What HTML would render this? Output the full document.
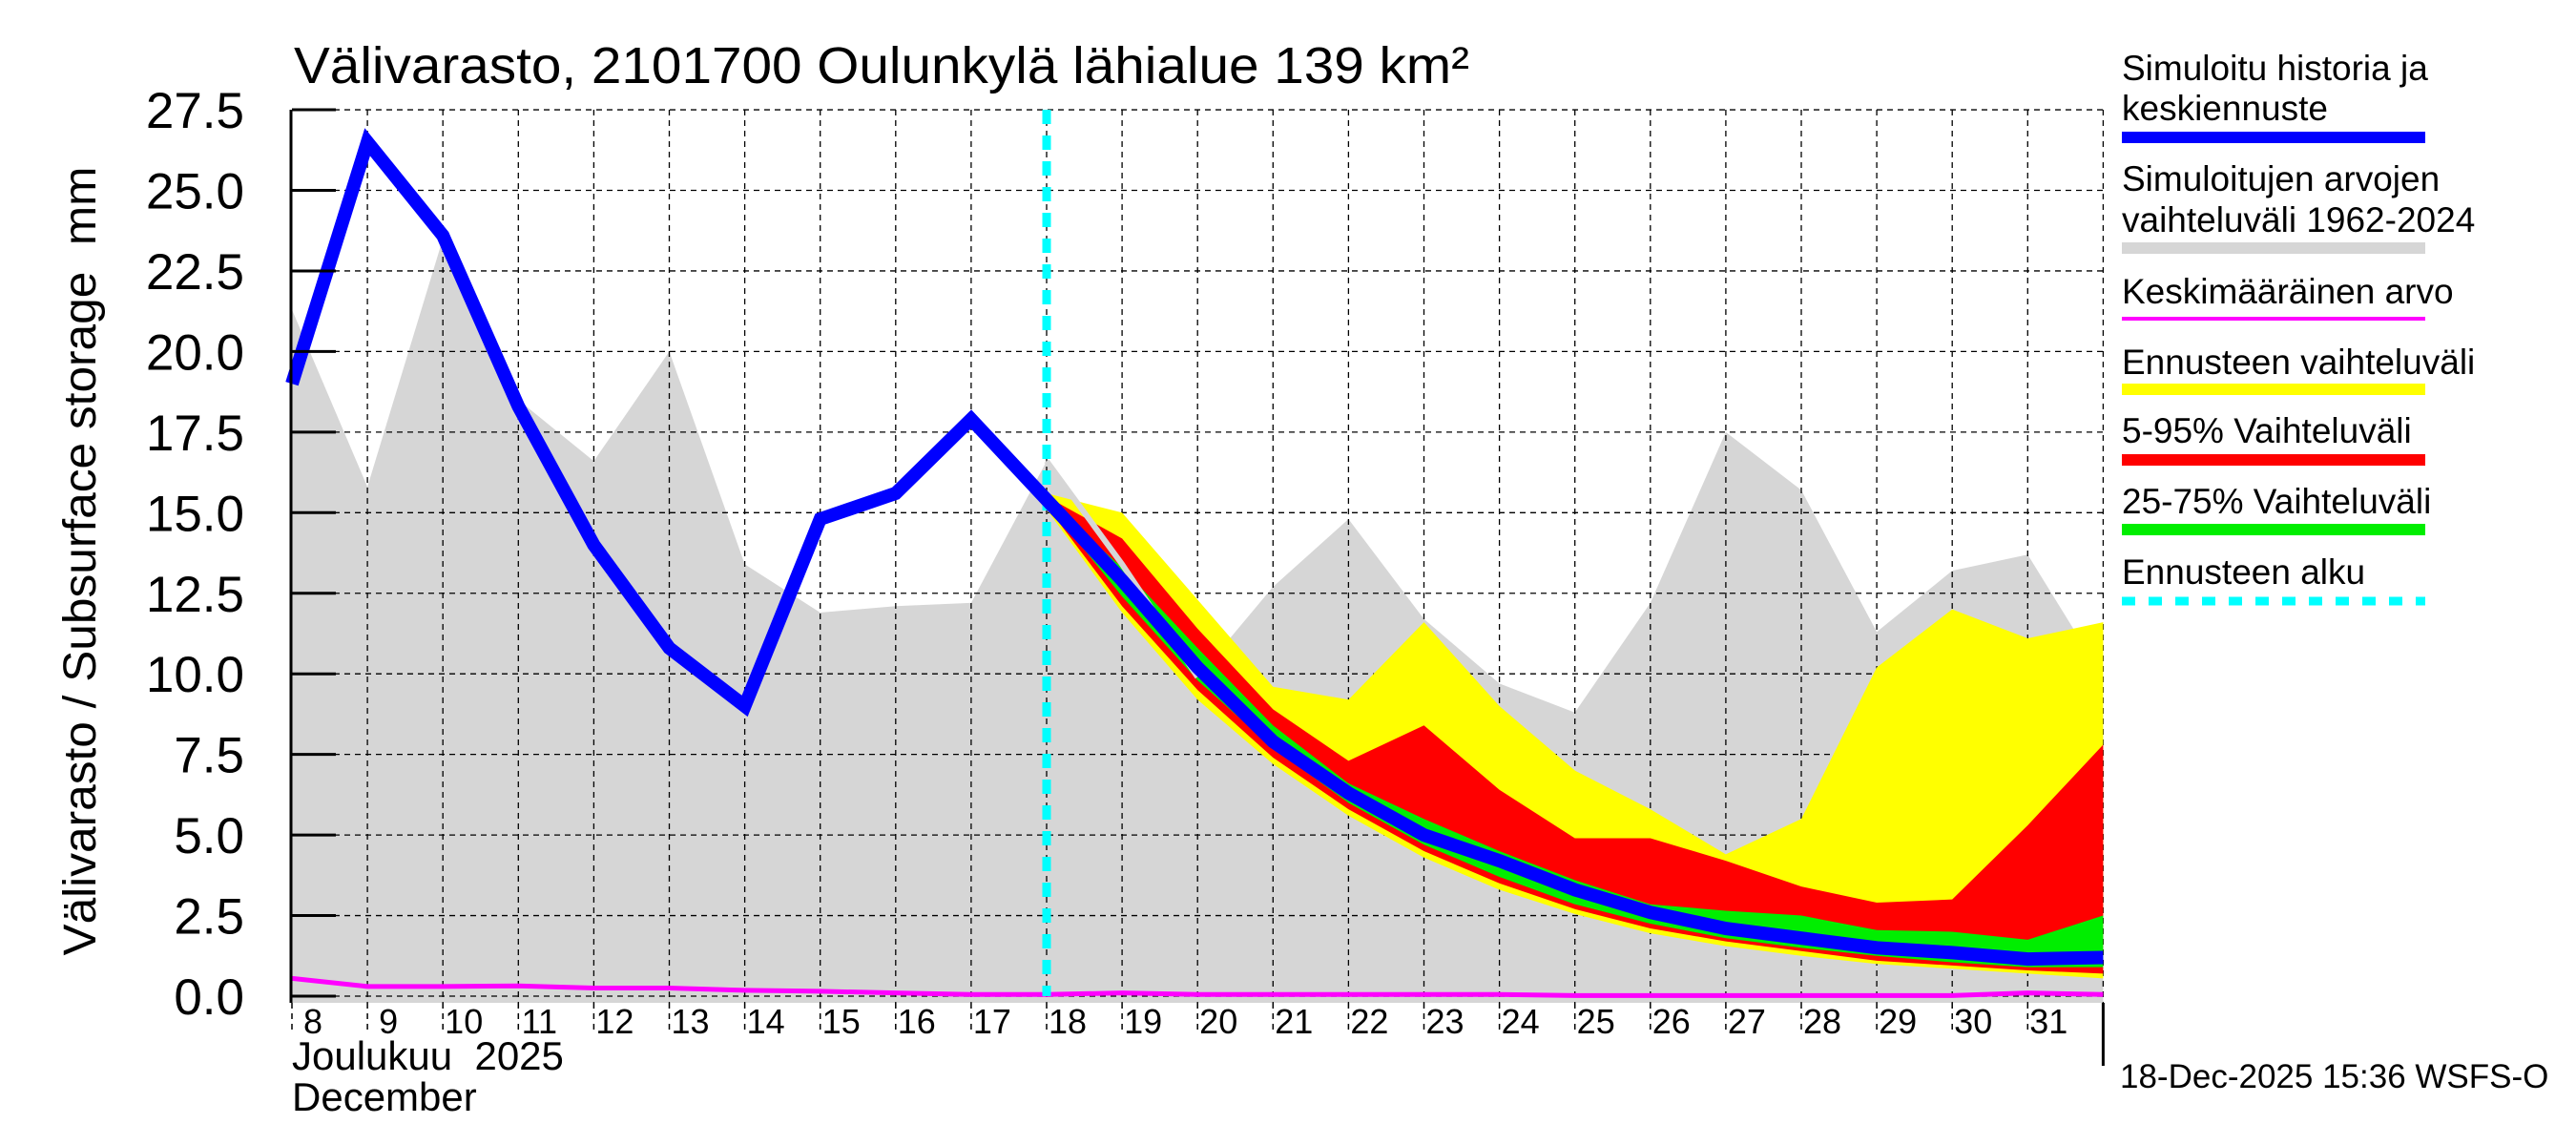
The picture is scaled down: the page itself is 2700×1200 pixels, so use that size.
<!DOCTYPE html>
<html><head><meta charset="utf-8">
<style>
html,body{margin:0;padding:0;background:#fff;}
svg{display:block;font-family:"Liberation Sans",Arial,sans-serif;}
</style></head>
<body>
<svg id="chart" width="2700" height="1200" viewBox="0 0 2700 1200" xmlns="http://www.w3.org/2000/svg">
<g id="plot"></g>
<text x="308" y="87" font-size="54" textLength="1232" lengthAdjust="spacingAndGlyphs">Välivarasto, 2101700 Oulunkylä lähialue 139 km²</text>
<text transform="translate(100,588) rotate(-90)" text-anchor="middle" font-size="48" textLength="827" lengthAdjust="spacingAndGlyphs">Välivarasto / Subsurface storage &#160;mm</text>
<text x="306" y="1121" font-size="42">Joulukuu &#160;2025</text>
<text x="306" y="1164" font-size="42">December</text>
<text x="2222" y="1140" font-size="35">18-Dec-2025 15:36 WSFS-O</text>
<g font-size="37">
 <text x="2224" y="84">Simuloitu historia ja</text>
 <text x="2224" y="126">keskiennuste</text>
 <rect x="2224" y="138" width="318" height="12" fill="#0000ff"/>
 <text x="2224" y="200">Simuloitujen arvojen</text>
 <text x="2224" y="243">vaihteluväli 1962-2024</text>
 <rect x="2224" y="254" width="318" height="12" fill="#d6d6d6"/>
 <text x="2224" y="318">Keskimääräinen arvo</text>
 <rect x="2224" y="332" width="318" height="4" fill="#ff00ff"/>
 <text x="2224" y="392">Ennusteen vaihteluväli</text>
 <rect x="2224" y="402" width="318" height="12" fill="#ffff00"/>
 <text x="2224" y="464">5-95% Vaihteluväli</text>
 <rect x="2224" y="476" width="318" height="12" fill="#ff0000"/>
 <text x="2224" y="538">25-75% Vaihteluväli</text>
 <rect x="2224" y="549" width="318" height="12" fill="#00ee00"/>
 <text x="2224" y="612">Ennusteen alku</text>
 <line x1="2224" y1="630" x2="2542" y2="630" stroke="#00ffff" stroke-width="9" stroke-dasharray="14,14"/>
</g>
</svg>
<script>
const dayLabels = ["8","9","10","11","12","13","14","15","16","17","18","19","20","21","22","23","24","25","26","27","28","29","30","31"];
const yTicks = [0,2.5,5,7.5,10,12.5,15,17.5,20,22.5,25,27.5];
const histDays = [0,1,2,3,4,5,6,7,8,9,10];
const histValues = [19.0,26.5,23.6,18.3,14.0,10.8,9.0,14.8,15.6,17.9,15.4];
const rangeDays = [0,1,2,3,4,5,6,7,8,9,10,11,12,13,14,15,16,17,18,19,20,21,22,23,24];
const rangeMax = [21.3,15.8,23.5,18.5,16.6,20.0,13.4,11.9,12.1,12.2,16.6,13.4,9.9,12.7,14.8,11.7,9.7,8.8,12.2,17.5,15.7,11.3,13.2,13.7,9.9];
const meanValues = [0.55,0.3,0.3,0.32,0.25,0.25,0.18,0.15,0.1,0.05,0.05,0.1,0.05,0.05,0.05,0.05,0.05,0.02,0.02,0.02,0.02,0.02,0.02,0.1,0.05];
const fcDays = [10,11,12,13,14,15,16,17,18,19,20,21,22,23,24];
const fcMedian = [15.4,12.9,10.2,7.9,6.3,5.0,4.2,3.3,2.6,2.1,1.8,1.5,1.35,1.15,1.2];
const fcMaxAll = [15.6,15.0,12.3,9.6,9.2,11.6,9.0,7.0,5.8,4.4,5.5,10.2,12.0,11.1,11.6];
const fcMinAll = [15.1,11.9,9.2,7.2,5.6,4.3,3.3,2.55,1.95,1.55,1.25,1.0,0.85,0.7,0.55];
const fcP95 = [15.5,14.2,11.4,8.9,7.3,8.4,6.4,4.9,4.9,4.2,3.4,2.9,3.0,5.3,7.8];
const fcP05 = [15.2,12.1,9.5,7.4,5.8,4.5,3.5,2.7,2.1,1.7,1.4,1.1,0.95,0.8,0.7];
const fcP75 = [15.4,13.3,10.8,8.4,6.6,5.5,4.5,3.6,2.85,2.65,2.5,2.05,2.0,1.75,2.5];
const fcP25 = [15.3,12.4,9.8,7.7,6.0,4.7,3.7,2.85,2.25,1.8,1.5,1.25,1.05,0.9,0.9];
const forecastStartDay = 10;

const NS="http://www.w3.org/2000/svg";
const X0=306, DW=79.1, Y0=1044, YU=33.78, PB=1051, PT=115, PR=X0+24*DW;
const xs=d=>X0+d*DW, ys=v=>Y0-v*YU;
const plot=document.getElementById('plot');
function mk(tag,attrs){const e=document.createElementNS(NS,tag);for(const k in attrs)e.setAttribute(k,attrs[k]);plot.appendChild(e);return e;}
function band(days,lo,hi){let p=days.map((d,i)=>xs(d)+','+ys(hi[i]));for(let i=days.length-1;i>=0;i--)p.push(xs(days[i])+','+ys(lo[i]));return p.join(' ');}
function line(days,vals){return days.map((d,i)=>xs(d)+','+ys(vals[i])).join(' ');}

let gp=rangeDays.map((d,i)=>xs(d)+','+ys(rangeMax[i]));gp.push(xs(24)+','+PB,xs(0)+','+PB);
let e=mk('polygon',{points:gp.join(' '),fill:'#d6d6d6'});



for(let d=1;d<=24;d++){e=mk('line',{x1:xs(d),y1:PT,x2:xs(d),y2:PB,stroke:'#000','stroke-width':1.3,'stroke-dasharray':'6,5'});

}
yTicks.forEach(v=>{e=mk('line',{x1:X0,y1:ys(v),x2:PR,y2:ys(v),stroke:'#000','stroke-width':1.3,'stroke-dasharray':'6,5'});

});

e=mk('polygon',{points:band(fcDays,fcMinAll,fcMaxAll),fill:'#ffff00'});


e=mk('polygon',{points:band(fcDays,fcP05,fcP95),fill:'#ff0000'});


e=mk('polygon',{points:band(fcDays,fcP25,fcP75),fill:'#00ee00'});


e=mk('polyline',{points:line(rangeDays.slice(10,13),rangeMax.slice(10,13)),fill:'none',stroke:'#d6d6d6','stroke-width':6});



e=mk('polyline',{points:line(rangeDays,meanValues),fill:'none',stroke:'#ff00ff','stroke-width':5});



e=mk('line',{x1:xs(forecastStartDay),y1:PT,x2:xs(forecastStartDay),y2:Y0,stroke:'#00ffff','stroke-width':9,'stroke-dasharray':'15,12'});



e=mk('polyline',{points:line(histDays.concat(fcDays.slice(1)),histValues.concat(fcMedian.slice(1))),fill:'none',stroke:'#0000ff','stroke-width':14,'stroke-linejoin':'miter'});



e=mk('line',{x1:X0-1,y1:PT,x2:X0-1,y2:PB,stroke:'#000','stroke-width':3});


e=mk('line',{x1:PR,y1:PB,x2:PR,y2:1117,stroke:'#000','stroke-width':3});


yTicks.forEach(v=>{
 e=mk('line',{x1:X0,y1:ys(v),x2:X0+46,y2:ys(v),stroke:'#000','stroke-width':3});
 
 
 e=mk('text',{x:256,y:ys(v)+19,'text-anchor':'end','font-size':53});
 e.textContent=v.toFixed(1);
 
 
});
dayLabels.forEach((lab,i)=>{
 e=mk('line',{x1:xs(i),y1:PB,x2:xs(i),y2:1082,stroke:'#000','stroke-width':1.5,'stroke-dasharray':'6,5'});
 
 
 e=mk('text',{x:xs(i)+22,y:1083,'text-anchor':'middle','font-size':36});
 e.textContent=lab;
 
 
});
</script>
</body></html>
